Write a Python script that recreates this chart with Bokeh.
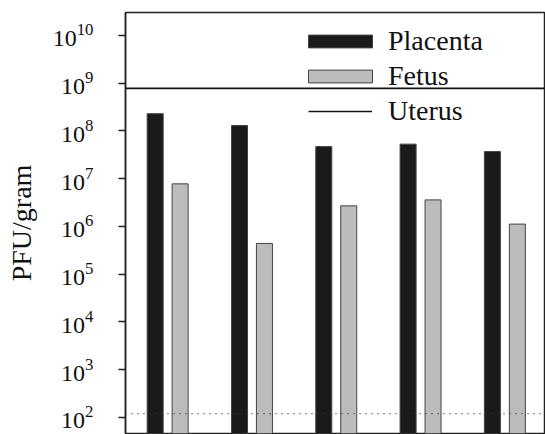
from bokeh.plotting import figure
from bokeh.models import Range1d, FixedTicker, LogTickFormatter, Legend, LegendItem, Span
from bokeh.embed import file_html
from bokeh.resources import INLINE

# ---- data ----
groups = [0, 1, 2, 3, 4]
placenta = [2.3e8, 1.3e8, 4.7e7, 5.3e7, 3.7e7]
fetus = [7.8e6, 4.4e5, 2.7e6, 3.6e6, 1.12e6]
uterus = 7.8e8
detection_limit = 1.2e2
y_ticks = [1e2, 1e3, 1e4, 1e5, 1e6, 1e7, 1e8, 1e9, 1e10]

FONT = "'Liberation Serif', 'Times New Roman', serif"
offset = 0.148
bar_w = 0.19
x0, x1 = -0.5, 4.47
y0, y1 = 46, 3.03e10

p = figure(width=545, height=434, output_backend="svg", toolbar_location=None,
           y_axis_type="log", x_range=Range1d(x0, x1), y_range=Range1d(y0, y1),
           min_border_left=125, min_border_right=1, min_border_top=12, min_border_bottom=1)
p.background_fill_color = "white"
p.border_fill_color = "white"
p.outline_line_color = "#222222"
p.outline_line_width = 1.5
p.xgrid.visible = False
p.ygrid.visible = False
p.xaxis.visible = False

ax = p.yaxis[0]
ax.ticker = FixedTicker(ticks=y_ticks)
ax.formatter = LogTickFormatter()
ax.major_label_text_font = FONT
ax.major_label_text_font_size = "24px"
ax.major_label_text_color = "#111111"
ax.major_tick_out = 7
ax.major_tick_in = 0
ax.minor_tick_out = 0
ax.minor_tick_in = 0
ax.major_tick_line_color = "#222222"
ax.major_tick_line_width = 1.5
ax.axis_line_color = "#222222"
ax.axis_line_width = 1.5
ax.major_label_standoff = 25
ax.axis_label = "PFU/gram"
ax.axis_label_text_font = FONT
ax.axis_label_text_font_style = "normal"
ax.axis_label_text_font_size = "28px"
ax.axis_label_text_color = "#111111"
ax.axis_label_standoff = 13

p.add_layout(Span(location=detection_limit, dimension="width", line_color="#333333",
                  line_width=1.2, line_dash="1 5"))

rp = p.vbar(x=[g - offset for g in groups], top=placenta, bottom=1, width=bar_w,
            fill_color="#1a1a1a", line_color="#444444", line_width=1)
rf = p.vbar(x=[g + offset for g in groups], top=fetus, bottom=1, width=bar_w,
            fill_color="#bcbcbc", line_color="#444444", line_width=1)
ru = p.line(x=[x0, x1], y=[uterus, uterus], line_color="#111111", line_width=1.6)

common = dict(padding=0, margin=0, spacing=0, glyph_height=16, label_height=35,
              label_text_font=FONT, label_text_font_size="28px", label_text_color="#111111",
              border_line_color=None, background_fill_alpha=0)
legend1 = Legend(items=[LegendItem(label="Placenta", renderers=[rp]),
                        LegendItem(label="Fetus", renderers=[rf])],
                 location=(175, 340), glyph_width=80, label_standoff=8, **common)
legend2 = Legend(items=[LegendItem(label="Uterus", renderers=[ru])],
                 location=(183, 305), glyph_width=64, label_standoff=16, **common)
p.add_layout(legend1)
p.add_layout(legend2)

open("out.html", "w").write(file_html(p, INLINE))
